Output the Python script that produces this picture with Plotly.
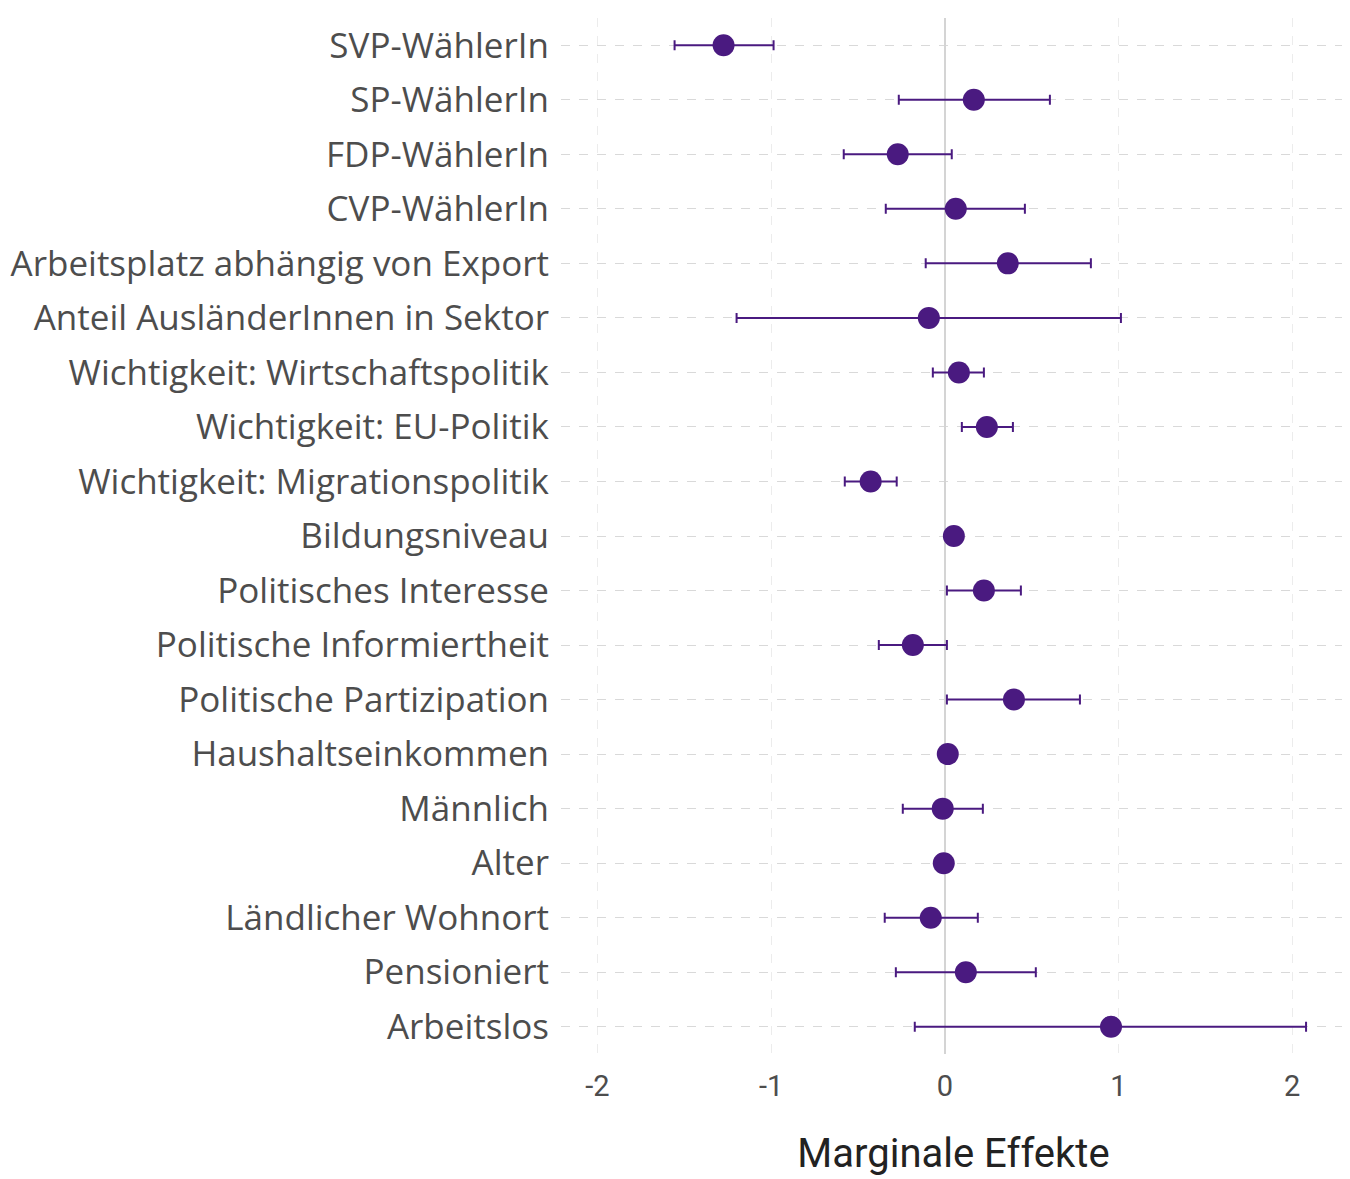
import plotly.graph_objects as go

labels = [
    "SVP-WählerIn", "SP-WählerIn", "FDP-WählerIn", "CVP-WählerIn",
    "Arbeitsplatz abhängig von Export", "Anteil AusländerInnen in Sektor",
    "Wichtigkeit: Wirtschaftspolitik", "Wichtigkeit: EU-Politik",
    "Wichtigkeit: Migrationspolitik", "Bildungsniveau", "Politisches Interesse",
    "Politische Informiertheit", "Politische Partizipation", "Haushaltseinkommen",
    "Männlich", "Alter", "Ländlicher Wohnort", "Pensioniert", "Arbeitslos",
]
estimate = [-1.274, 0.167, -0.271, 0.063, 0.363, -0.092, 0.081, 0.242, -0.427,
            0.052, 0.225, -0.184, 0.398, 0.017, -0.012, -0.006, -0.081, 0.121, 0.957]
lower = [-1.556, -0.265, -0.582, -0.340, -0.110, -1.199, -0.069, 0.098, -0.576,
         0.032, 0.012, -0.380, 0.012, 0.002, -0.242, -0.020, -0.346, -0.282, -0.173]
upper = [-0.986, 0.605, 0.040, 0.461, 0.841, 1.014, 0.225, 0.392, -0.277,
         0.072, 0.438, 0.012, 0.778, 0.032, 0.219, 0.008, 0.190, 0.524, 2.080]

x_ticks = [-2, -1, 0, 1, 2]

purple = "#4a1a80"

err_plus = [u - e for u, e in zip(upper, estimate)]
err_minus = [e - l for e, l in zip(estimate, lower)]

fig = go.Figure()
fig.add_trace(go.Scatter(
    x=estimate, y=labels, mode="markers",
    marker=dict(color=purple, size=22, line=dict(width=0)),
    error_x=dict(type="data", symmetric=False, array=err_plus, arrayminus=err_minus,
                 color=purple, thickness=2, width=5),
    showlegend=False, hoverinfo="x+y",
))

fig.update_layout(
    width=1350, height=1179,
    paper_bgcolor="white", plot_bgcolor="white",
    margin=dict(l=553, r=12, t=10, b=133),
    font=dict(family="Open Sans", color="#4d4d4d"),
    xaxis=dict(
        range=[-2.21, 2.31], tickvals=x_ticks, ticktext=[str(v) for v in x_ticks],
        showgrid=True, gridcolor="#ececec", griddash="dash", gridwidth=1,
        zeroline=True, zerolinecolor="#d4d4d4", zerolinewidth=1.5,
        tickfont=dict(size=29, color="#4d4d4d", family="Roboto"),
        ticks="", showline=False, automargin=False, ticklabelstandoff=12,
        title=dict(text="Marginale Effekte", font=dict(size=40, color="#222222", family="Roboto"),
                   standoff=36),
    ),
    yaxis=dict(
        categoryorder="array", categoryarray=labels, range=[18.5, -0.5],
        showgrid=True, gridcolor="#d9d9d9", griddash="dash", gridwidth=1,
        tickfont=dict(size=35, color="#4d4d4d", family="Open Sans"),
        ticks="", ticklabelstandoff=11, showline=False, automargin=False,
    ),
)

fig.write_html("out.html")
